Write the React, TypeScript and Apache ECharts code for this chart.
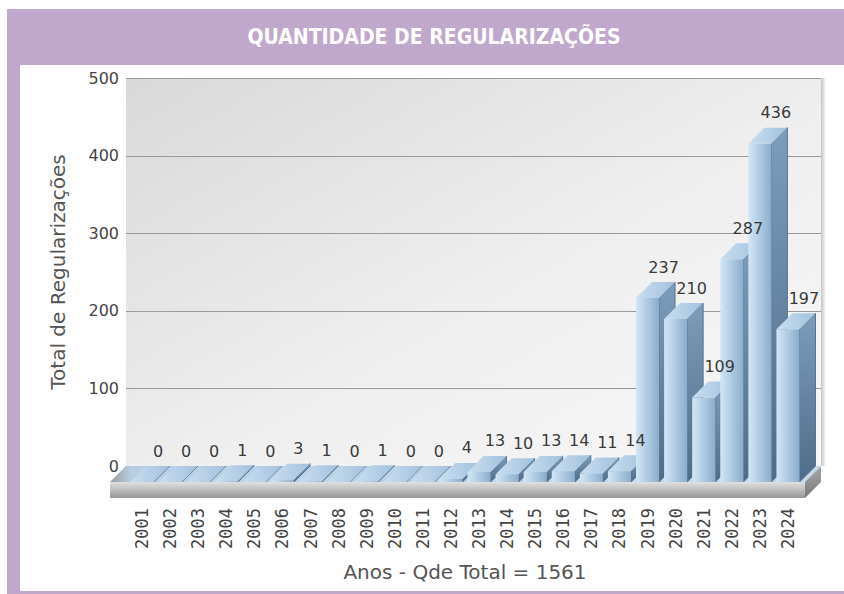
import React, { useEffect, useRef } from "react";
import * as echarts from "echarts";

const years = [
  "2001", "2002", "2003", "2004", "2005", "2006", "2007", "2008", "2009", "2010", "2011", "2012",
  "2013", "2014", "2015", "2016", "2017", "2018", "2019", "2020", "2021", "2022", "2023", "2024",
];
const values = [0, 0, 0, 1, 0, 3, 1, 0, 1, 0, 0, 4, 13, 10, 13, 14, 11, 14, 237, 210, 109, 287, 436, 197];
const yTicks = [0, 100, 200, 300, 400, 500];
const titleText = "QUANTIDADE DE REGULARIZAÇÕES";
const xName = "Anos - Qde Total = 1561";
const yName = "Total de Regularizações";

const DX = 16;
const DY = -16;

function lin(x2: number, y2: number, stops: [number, string][]) {
  return {
    type: "linear",
    x: 0,
    y: 0,
    x2,
    y2,
    colorStops: stops.map(([offset, color]) => ({ offset, color })),
    global: false,
  };
}

export default function App() {
  const ref = useRef<HTMLDivElement>(null);
  useEffect(() => {
    if (!ref.current) return;
    const chart = echarts.init(ref.current, undefined, { renderer: "svg" });

    const renderBackground = (params: any, api: any) => {
      const cs = params.coordSys;
      const y0 = api.coord([0, 0])[1];
      const yTop = api.coord([0, yTicks[yTicks.length - 1]])[1];
      const leftF = cs.x - 18;
      const rightF = cs.x + cs.width + 3;
      const children: any[] = [];
      children.push({
        type: "rect",
        shape: { x: leftF + DX, y: yTop + DY, width: rightF - leftF, height: y0 - yTop },
        style: { fill: lin(1, 1, [[0, "#d9d9d9"], [0.55, "#efefef"], [1, "#f7f7f7"]]) },
      });
      children.push({
        type: "rect",
        shape: { x: rightF + DX, y: yTop + DY, width: 4, height: y0 - yTop },
        style: { fill: lin(1, 0, [[0, "#c4c4c4"], [1, "#f0f0f0"]]) },
      });
      yTicks.slice(1).forEach((t) => {
        const yy = Math.round(api.coord([0, t])[1] + DY) + 0.5;
        children.push({
          type: "line",
          shape: { x1: leftF + DX, y1: yy, x2: rightF + DX, y2: yy },
          style: { stroke: "#9a9a9a", lineWidth: 1 },
        });
      });
      children.push({
        type: "polygon",
        shape: {
          points: [
            [leftF, y0],
            [rightF, y0],
            [rightF + DX, y0 + DY],
            [leftF + DX, y0 + DY],
          ],
        },
        style: { fill: lin(1, 0, [[0, "#9a9a9a"], [0.03, "#b7cfe3"], [1, "#c4d9ea"]]) },
      });
      children.push({
        type: "rect",
        shape: { x: leftF, y: y0, width: rightF - leftF, height: 16 },
        style: { fill: lin(0, 1, [[0, "#e0e0e0"], [0.5, "#bdbdbd"], [1, "#969696"]]) },
      });
      children.push({
        type: "polygon",
        shape: {
          points: [
            [rightF, y0],
            [rightF + DX, y0 + DY],
            [rightF + DX, y0 + DY + 16],
            [rightF, y0 + 16],
          ],
        },
        style: { fill: lin(0, 1, [[0, "#a8a8a8"], [1, "#7a7a7a"]]) },
      });
      return { type: "group", children };
    };

    const renderBar = (params: any, api: any) => {
      const xi = api.value(0);
      const v = api.value(1);
      const [px, py] = api.coord([xi, v]);
      const y0 = api.coord([xi, 0])[1];
      const bw = api.size([1, 0])[0] * 0.82;
      const xl = px - bw / 2;
      const xr = px + bw / 2;
      const children: any[] = [];
      children.push({
        type: "polygon",
        shape: {
          points: [
            [xr, py],
            [xr + DX, py + DY],
            [xr + DX, y0 + DY],
            [xr, y0],
          ],
        },
        style: {
          fill: lin(0, 1, [[0, "#7d9dbb"], [1, "#4f6c88"]]),
          stroke: "#56738f",
          lineWidth: 1,
        },
      });
      if (y0 - py > 0.5) {
        children.push({
          type: "rect",
          shape: { x: xl, y: py, width: bw, height: y0 - py },
          style: {
            fill: lin(1, 0, [[0, "#d3e6f6"], [0.45, "#b2cde5"], [1, "#8badca"]]),
          },
        });
      }
      children.push({
        type: "polygon",
        shape: {
          points: [
            [xl, py],
            [xr, py],
            [xr + DX, py + DY],
            [xl + DX, py + DY],
          ],
        },
        style: { fill: lin(1, 0, [[0, "#c9def1"], [1, "#a2c1dd"]]) },
      });
      return { type: "group", children };
    };

    const renderLabel = (params: any, api: any) => {
      const xi = api.value(0);
      const v = api.value(1);
      const [px, py] = api.coord([xi, v]);
      return {
        type: "text",
        style: {
          text: String(v),
          x: px + DX,
          y: py + DY - 15,
          align: "center",
          verticalAlign: "middle",
          fill: "#3a3a3a",
          fontSize: 16,
          fontFamily: "DejaVu Sans",
        },
      };
    };

    chart.setOption({
      animation: false,
      backgroundColor: "#ffffff",
      graphic: [
        {
          type: "rect",
          z: -10,
          shape: { x: 7, y: 9, width: 837, height: 585 },
          style: { fill: "#bfa8cc" },
        },
        {
          type: "rect",
          z: -9,
          shape: { x: 20, y: 65, width: 824, height: 526 },
          style: { fill: "#ffffff" },
        },
        {
          type: "text",
          z: -8,
          x: 434,
          y: 37,
          style: {
            text: titleText,
            align: "center",
            verticalAlign: "middle",
            fill: "#ffffff",
            fontSize: 21,
            fontWeight: "bold",
            fontFamily: "'Liberation Sans Narrow', 'DejaVu Sans Condensed', sans-serif",
          },
        },
      ],
      grid: [
        { left: 128, right: 42, top: 94, bottom: 112 },
        { left: 144, right: 26, top: 78, bottom: 128 },
      ],
      xAxis: [
        {
          type: "category",
          gridIndex: 0,
          data: years,
          axisLine: { show: false },
          axisTick: { show: false },
          axisLabel: {
            rotate: 90,
            margin: 26,
            color: "#444444",
            fontSize: 17,
            fontFamily: "DejaVu Sans Mono",
          },
          name: xName,
          nameLocation: "middle",
          nameGap: 80,
          nameTextStyle: { color: "#555555", fontSize: 20, fontFamily: "DejaVu Sans" },
        },
        { type: "category", gridIndex: 1, data: years, show: false },
      ],
      yAxis: [
        {
          type: "value",
          gridIndex: 0,
          min: 0,
          max: 500,
          interval: 100,
          show: false,
          splitLine: { show: false },
        },
        {
          type: "value",
          gridIndex: 1,
          min: 0,
          max: 500,
          interval: 100,
          axisLine: { show: false },
          axisTick: { show: false },
          splitLine: { show: false },
          axisLabel: {
            margin: 25,
            color: "#444444",
            fontSize: 16,
            fontFamily: "DejaVu Sans",
          },
          name: yName,
          nameLocation: "middle",
          nameGap: 76,
          nameTextStyle: { color: "#555555", fontSize: 20, fontFamily: "DejaVu Sans" },
        },
      ],
      series: [
        {
          type: "custom",
          xAxisIndex: 0,
          yAxisIndex: 0,
          z: 1,
          silent: true,
          renderItem: renderBackground,
          data: [[0, 0]],
          encode: { x: 0, y: 1 },
        },
        {
          type: "custom",
          xAxisIndex: 0,
          yAxisIndex: 0,
          z: 3,
          renderItem: renderBar,
          data: values.map((v, i) => [i, v]),
          encode: { x: 0, y: 1 },
        },
        {
          type: "custom",
          xAxisIndex: 0,
          yAxisIndex: 0,
          z: 5,
          silent: true,
          renderItem: renderLabel,
          data: values.map((v, i) => [i, v]),
          encode: { x: 0, y: 1 },
        },
      ],
    });
    return () => chart.dispose();
  }, []);
  return (
    <div
      ref={ref}
      style={{ position: "fixed", left: 0, top: 0, width: 844, height: 594 }}
    />
  );
}
